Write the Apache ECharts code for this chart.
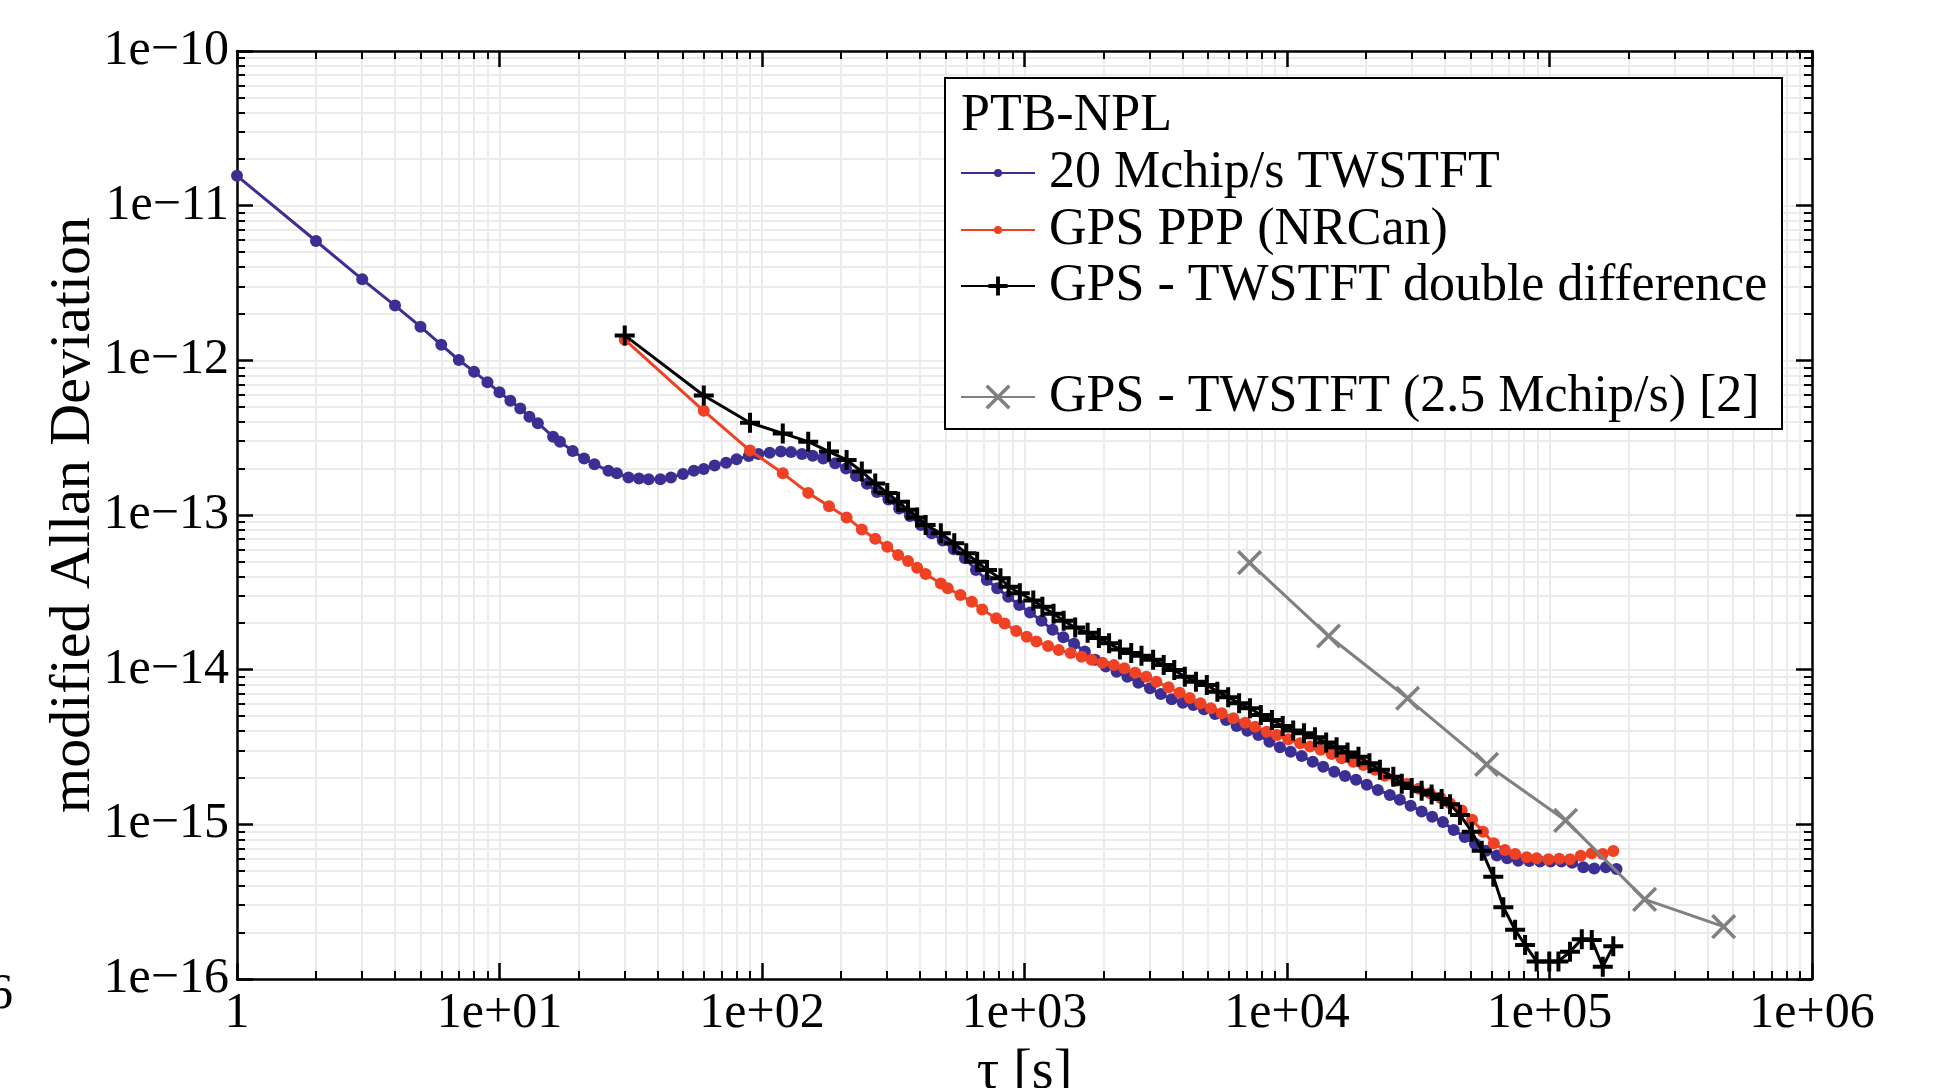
<!DOCTYPE html>
<html>
<head>
<meta charset="utf-8">
<title>PTB-NPL modified Allan Deviation</title>
<script src="https://cdn.jsdelivr.net/npm/echarts@6/dist/echarts.min.js"></script>
<style>
  html, body { margin: 0; padding: 0; background: #fff; }
  #j-echarts { width: 1945px; height: 1088px; }
</style>
</head>
<body>
<div id="j-echarts"></div>
<script>
'use strict';

// 20 Mchip/s TWSTFT
var tauTw = [1, 2, 3, 4, 5, 6, 7, 8, 9, 10, 11, 12, 13, 14, 16, 17, 19, 21, 23, 26, 28, 31, 34, 37, 41, 45,
  50, 55, 60, 66, 73, 80, 89, 97, 107, 118, 129, 142, 156, 171, 190, 209, 228, 251, 274, 303, 333, 366,
  403, 443, 488, 538, 593, 653, 718, 787, 867, 955, 1050, 1161, 1279, 1406, 1545, 1698, 1858, 2042, 2244,
  2466, 2716, 3006, 3304, 3639, 4009, 4395, 4831, 5321, 5861, 6427, 7063, 7780, 8570, 9397, 10330, 11376,
  12531, 13740, 15136, 16634, 18323, 20137, 22182, 24660, 26900, 29580, 32580, 35730, 39260, 43150, 47530,
  52000, 57300, 63000, 69000, 76000, 83800, 92000, 101000, 111000, 122000, 134600, 148000, 164000, 180000];
var devTw = [1.56e-11, 5.91e-12, 3.34e-12, 2.26e-12, 1.65e-12, 1.26e-12, 1.005e-12, 8.45e-13, 7.21e-13, 6.21e-13,
  5.48e-13, 4.89e-13, 4.32e-13, 3.92e-13, 3.21e-13, 2.98e-13, 2.59e-13, 2.32e-13, 2.13e-13, 1.93e-13, 1.86e-13,
  1.75e-13, 1.72e-13, 1.70e-13, 1.70e-13, 1.75e-13, 1.84e-13, 1.93e-13, 1.98e-13, 2.09e-13, 2.18e-13, 2.29e-13,
  2.41e-13, 2.48e-13, 2.53e-13, 2.57e-13, 2.55e-13, 2.48e-13, 2.42e-13, 2.32e-13, 2.16e-13, 2.00e-13, 1.79e-13,
  1.59e-13, 1.41e-13, 1.26e-13, 1.10e-13, 9.86e-14, 8.62e-14, 7.62e-14, 6.83e-14, 6.00e-14, 5.25e-14, 4.41e-14,
  3.80e-14, 3.36e-14, 2.96e-14, 2.62e-14, 2.34e-14, 2.07e-14, 1.81e-14, 1.62e-14, 1.47e-14, 1.31e-14, 1.16e-14,
  1.05e-14, 9.7e-15, 9.01e-15, 8.24e-15, 7.57e-15, 6.96e-15, 6.43e-15, 6.12e-15, 5.91e-15, 5.55e-15, 5.17e-15,
  4.73e-15, 4.32e-15, 4.03e-15, 3.78e-15, 3.42e-15, 3.15e-15, 2.95e-15, 2.77e-15, 2.54e-15, 2.36e-15, 2.19e-15,
  2.05e-15, 1.94e-15, 1.80e-15, 1.67e-15, 1.55e-15, 1.44e-15, 1.32e-15, 1.21e-15, 1.12e-15, 1.035e-15, 9.19e-16,
  8.28e-16, 7.5e-16, 6.74e-16, 6.29e-16, 6.03e-16, 5.82e-16, 5.79e-16, 5.74e-16, 5.74e-16, 5.76e-16, 5.65e-16,
  5.27e-16, 5.19e-16, 5.27e-16, 5.14e-16];

// GPS PPP (NRCan)
var tauPpp = [30, 60, 90, 120, 150, 180, 210, 240, 270, 300, 330, 360, 390, 420, 480, 510, 570, 630, 690, 780,
  840, 930, 1020, 1110, 1230, 1350, 1500, 1650, 1800, 1980, 2190, 2400, 2640, 2910, 3180, 3540, 3900, 4260,
  4680, 5130, 5640, 6240, 6930, 7560, 8370, 9150, 10110, 11220, 12240, 13440, 14790, 16140, 17880, 19530,
  21660, 23580, 26100, 28620, 31740, 35070, 38490, 41760, 46290, 50700, 55800, 61350, 67620, 74010, 81870,
  89370, 99060, 108900, 119700, 131520, 144870, 159600, 175020];
var devPpp = [1.36e-12, 4.72e-13, 2.61e-13, 1.86e-13, 1.39e-13, 1.14e-13, 9.65e-14, 8.07e-14, 7.03e-14, 6.24e-14,
  5.51e-14, 5.04e-14, 4.56e-14, 4.16e-14, 3.61e-14, 3.36e-14, 3.04e-14, 2.75e-14, 2.45e-14, 2.15e-14, 1.99e-14,
  1.78e-14, 1.63e-14, 1.52e-14, 1.42e-14, 1.34e-14, 1.28e-14, 1.21e-14, 1.16e-14, 1.11e-14, 1.07e-14, 1.02e-14,
  9.55e-15, 9.01e-15, 8.36e-15, 7.69e-15, 7.10e-15, 6.56e-15, 6.06e-15, 5.63e-15, 5.22e-15, 4.85e-15, 4.54e-15,
  4.28e-15, 3.97e-15, 3.78e-15, 3.55e-15, 3.34e-15, 3.18e-15, 3.03e-15, 2.85e-15, 2.67e-15, 2.54e-15, 2.42e-15,
  2.25e-15, 2.06e-15, 1.91e-15, 1.82e-15, 1.70e-15, 1.59e-15, 1.48e-15, 1.37e-15, 1.23e-15, 1.07e-15, 8.97e-16,
  7.55e-16, 6.83e-16, 6.44e-16, 6.12e-16, 6.03e-16, 5.94e-16, 6.00e-16, 5.94e-16, 6.27e-16, 6.50e-16, 6.44e-16,
  6.73e-16];

// GPS - TWSTFT double difference
var tauDd = [30, 60, 90, 120, 150, 180, 210, 240, 270, 300, 330, 360, 390, 420, 480, 540, 600, 660, 720, 810,
  870, 960, 1080, 1170, 1290, 1410, 1560, 1740, 1920, 2100, 2310, 2550, 2790, 3090, 3390, 3720, 4080, 4500,
  4950, 5430, 5970, 6570, 7230, 7950, 8760, 9630, 10560, 11610, 12780, 14100, 15450, 17010, 18720, 20610,
  22590, 25410, 27360, 29850, 32580, 35550, 38820, 41790, 45600, 50580, 55200, 61080, 66690, 73950, 80730,
  89310, 99780, 108150, 119670, 132740, 144880, 159590, 174980];
var devDd = [1.45e-12, 5.92e-13, 3.95e-13, 3.37e-13, 2.98e-13, 2.57e-13, 2.27e-13, 1.91e-13, 1.60e-13, 1.39e-13,
  1.22e-13, 1.08e-13, 9.65e-14, 8.61e-14, 7.61e-14, 6.56e-14, 5.65e-14, 4.99e-14, 4.41e-14, 3.90e-14, 3.44e-14,
  3.12e-14, 2.80e-14, 2.55e-14, 2.30e-14, 2.07e-14, 1.87e-14, 1.73e-14, 1.60e-14, 1.48e-14, 1.35e-14, 1.28e-14,
  1.23e-14, 1.16e-14, 1.07e-14, 9.95e-15, 9.01e-15, 8.36e-15, 7.96e-15, 7.21e-15, 6.63e-15, 6.06e-15, 5.63e-15,
  5.09e-15, 4.73e-15, 4.32e-15, 4.04e-15, 3.88e-15, 3.66e-15, 3.38e-15, 3.15e-15, 2.91e-15, 2.74e-15, 2.48e-15,
  2.25e-15, 2.03e-15, 1.83e-15, 1.72e-15, 1.65e-15, 1.56e-15, 1.46e-15, 1.35e-15, 1.15e-15, 8.97e-16, 6.76e-16,
  4.59e-16, 2.91e-16, 2.08e-16, 1.66e-16, 1.30e-16, 1.30e-16, 1.30e-16, 1.50e-16, 1.81e-16, 1.79e-16, 1.20e-16,
  1.63e-16];

// GPS - TWSTFT (2.5 Mchip/s) [2]
var tauRef = [7200, 14400, 28800, 57600, 115200, 230400, 460800];
var devRef = [4.92e-14, 1.65e-14, 6.53e-15, 2.44e-15, 1.06e-15, 3.27e-16, 2.18e-16];

var seriesNames = ['20 Mchip/s TWSTFT', 'GPS PPP (NRCan)', 'GPS - TWSTFT double difference',
  'GPS - TWSTFT (2.5 Mchip/s) [2]'];
var xTickLabels = ['1', '1e+01', '1e+02', '1e+03', '1e+04', '1e+05', '1e+06'];
var yTickLabels = ['1e\u221216', '1e\u221215', '1e\u221214', '1e\u221213', '1e\u221212', '1e\u221211', '1e\u221210'];

// log axis rounds very small numbers, so y goes to the axis in units of 1e-16
var Y_UNIT = 1e-16;
var FONT = '"Liberation Serif", "DejaVu Serif", serif';
var PLUS = 'path://M-2,-10L2,-10L2,10L-2,10Z M-10,-2L10,-2L10,2L-10,2Z';
var THIN_PLUS = 'path://M-1.1,-10L1.1,-10L1.1,10L-1.1,10Z M-10,-1.1L10,-1.1L10,1.1L-10,1.1Z';

function pairs(tau, dev) {
  return tau.map(function (t, i) {
    return [t, dev[i] / Y_UNIT];
  });
}

function decade(v) {
  return Math.round(Math.log10(v));
}

var tickStyle = { color: '#000', width: 2.5 };
var gridStyle = { color: '#ebebeb', width: 2 };

function logAxis(position, main) {
  return {
    type: 'log',
    logBase: 10,
    min: 1,
    max: 1e6,
    position: position,
    axisLine: { onZero: false, lineStyle: { color: '#000', width: 2.5 } },
    axisTick: { show: true, inside: true, length: 16, lineStyle: tickStyle },
    minorTick: { show: true, splitNumber: 9, length: 8, lineStyle: { color: '#000', width: 2 } },
    splitLine: { show: main, lineStyle: gridStyle },
    minorSplitLine: { show: main, lineStyle: gridStyle },
    axisLabel: { show: false }
  };
}

var xMain = logAxis('bottom', true);
xMain.name = '\u03c4 [s]';
xMain.nameLocation = 'middle';
xMain.nameGap = 66;
xMain.nameTextStyle = { fontFamily: FONT, fontSize: 56, color: '#000' };
xMain.axisLabel = {
  show: true, margin: 10, showMinLabel: true, showMaxLabel: true,
  fontFamily: FONT, fontSize: 50, color: '#000',
  formatter: function (v) { return xTickLabels[decade(v)]; }
};

var yMain = logAxis('left', true);
yMain.name = 'modified Allan Deviation';
yMain.nameLocation = 'middle';
yMain.nameGap = 134;
yMain.nameMoveOverlap = false;
yMain.nameTextStyle = { fontFamily: FONT, fontSize: 58, color: '#000' };
yMain.axisLabel = {
  show: true, margin: 8, showMinLabel: true, showMaxLabel: true,
  fontFamily: FONT, fontSize: 50, color: '#000',
  formatter: function (v) { return yTickLabels[decade(v)]; }
};

function legendItem(name, centerY, iconHeight) {
  return {
    data: [name],
    left: 960,
    top: centerY - 28,
    orient: 'vertical',
    padding: 0,
    itemWidth: 74,
    itemHeight: iconHeight,
    selectedMode: false,
    z: 10,
    textStyle: { fontFamily: FONT, fontSize: 52, lineHeight: 56, color: '#000', padding: [0, 0, 0, 9] }
  };
}

var myChart = echarts.init(document.getElementById('j-echarts'));

var option = {
  backgroundColor: '#fff',
  animation: false,
  // the tau label is cut by the bottom edge in the original, so no outer bounds
  grid: { left: 237, right: 133, top: 51, bottom: 109, outerBoundsMode: 'none', containLabel: false },
  xAxis: [xMain, logAxis('top', false)],
  yAxis: [yMain, logAxis('right', false)],
  legend: [
    legendItem(seriesNames[0], 173, 10),
    legendItem(seriesNames[1], 230, 10),
    legendItem(seriesNames[2], 286, 24),
    legendItem(seriesNames[3], 397, 40)
  ],
  graphic: {
    elements: [
      {
        type: 'rect', z: 5,
        shape: { x: 945, y: 78, width: 837, height: 351 },
        style: { fill: '#fff', stroke: '#000', lineWidth: 2 }
      },
      {
        type: 'text', z: 10, left: 961, top: 90,
        style: { text: 'PTB-NPL', font: '52px ' + FONT, fill: '#000' }
      },
      {
        type: 'text', z: 10, x: -12, y: 995,
        style: { text: '6', font: '50px ' + FONT, fill: '#000', verticalAlign: 'middle' }
      }
    ]
  },
  series: [
    {
      name: seriesNames[0], type: 'line', data: pairs(tauTw, devTw),
      symbol: 'circle', symbolSize: 12, showAllSymbol: true,
      itemStyle: { color: '#3b2f93' }, lineStyle: { color: '#3b2f93', width: 3 }, z: 2
    },
    {
      name: seriesNames[1], type: 'line', data: pairs(tauPpp, devPpp),
      symbol: 'circle', symbolSize: 12, showAllSymbol: true,
      itemStyle: { color: '#ef4123' }, lineStyle: { color: '#ef4123', width: 3 }, z: 3
    },
    {
      name: seriesNames[2], type: 'line', data: pairs(tauDd, devDd),
      symbol: PLUS, symbolSize: 20, showAllSymbol: true,
      itemStyle: { color: '#000' }, lineStyle: { color: '#000', width: 3 }, z: 4
    },
    {
      name: seriesNames[3], type: 'line', data: pairs(tauRef, devRef),
      symbol: THIN_PLUS, symbolSize: 32, symbolRotate: 45, showAllSymbol: true,
      itemStyle: { color: '#808080' }, lineStyle: { color: '#808080', width: 3 }, z: 5
    }
  ]
};

myChart.setOption(option);
</script>
</body>
</html>
